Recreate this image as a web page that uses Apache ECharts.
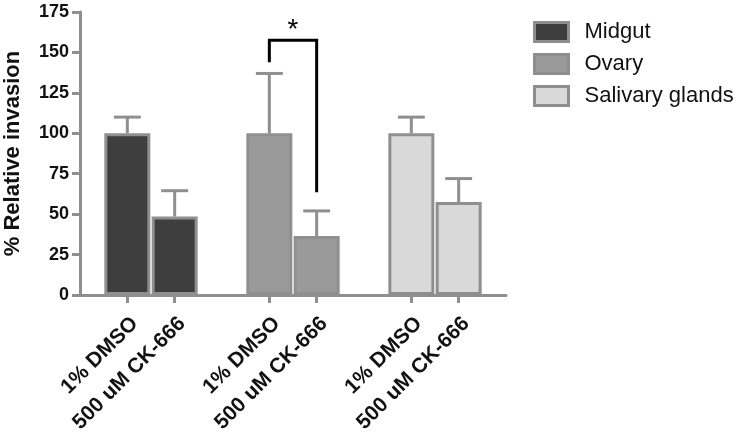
<!DOCTYPE html>
<html>
<head>
<meta charset="utf-8">
<script src="https://cdn.jsdelivr.net/npm/echarts@6/dist/echarts.min.js"></script>
<style>html,body{margin:0;padding:0;background:#fff;}#c{width:742px;height:434px;}</style>
</head>
<body>
<div id="c"></div>
<script>
// ---- data ----
var categories = ["", "1% DMSO", "500 uM CK-666", "", "1% DMSO", "500 uM CK-666", "", "1% DMSO", "500 uM CK-666", ""];
var seriesNames = ["Midgut", "Ovary", "Salivary glands"];
var groupPositions = [[1, 2], [4, 5], [7, 8]];
var midgutMean = [100, 48.5];
var midgutSem = [10, 16];
var ovaryMean = [100, 36.5];
var ovarySem = [37, 15.5];
var salivaryMean = [100, 57.5];
var salivarySem = [10, 14.5];
var yTicks = [0, 25, 50, 75, 100, 125, 150, 175];
var bracketPoints = [[4, 144], [4, 157.5], [5, 157.5], [5, 63.5]];
var starBetween = [4, 5];
var starValue = 164;
var starText = "*";

var means = [midgutMean, ovaryMean, salivaryMean];
var sems = [midgutSem, ovarySem, salivarySem];
var fills = ['#3e3e3e', '#9a9a9a', '#d9d9d9'];
var gray = '#8f8f8f';
var FONT = 'Liberation Sans, Arial, sans-serif';

var series = [];
seriesNames.forEach(function (name, g) {
  var d = categories.map(function () { return '-'; });
  groupPositions[g].forEach(function (pos, k) { d[pos] = means[g][k]; });
  series.push({
    name: name, type: 'bar', data: d, barWidth: 46, barGap: '-100%',
    itemStyle: { color: fills[g], borderColor: gray, borderWidth: 3 },
    z: 3
  });
});

var errData = [];
seriesNames.forEach(function (name, g) {
  groupPositions[g].forEach(function (pos, k) {
    errData.push([pos, means[g][k], sems[g][k]]);
  });
});
series.push({
  type: 'custom', name: 'err', data: errData, z: 4,
  renderItem: function (params, api) {
    var x = api.value(0), v = api.value(1), e = api.value(2);
    var p0 = api.coord([x, v]);
    var p1 = api.coord([x, v + e]);
    return {
      type: 'group',
      children: [
        { type: 'line', shape: { x1: p0[0], y1: p0[1], x2: p1[0], y2: p1[1] }, style: { stroke: gray, lineWidth: 3 } },
        { type: 'line', shape: { x1: p1[0] - 13.5, y1: p1[1], x2: p1[0] + 13.5, y2: p1[1] }, style: { stroke: gray, lineWidth: 3 } }
      ]
    };
  }
});
series.push({
  type: 'custom', name: 'bracket', data: [0], z: 5,
  renderItem: function (params, api) {
    var pts = bracketPoints.map(function (p) { return api.coord(p); });
    var a = api.coord([starBetween[0], starValue]);
    var b = api.coord([starBetween[1], starValue]);
    return {
      type: 'group',
      children: [
        { type: 'polyline', shape: { points: pts }, style: { stroke: '#000', lineWidth: 3, fill: null } },
        { type: 'text', x: (a[0] + b[0]) / 2, y: a[1], style: { text: starText, font: '28px ' + FONT, fill: '#000', align: 'center', verticalAlign: 'middle' } }
      ]
    };
  }
});

var chart = echarts.init(document.getElementById('c'), null, { renderer: 'canvas' });
chart.setOption({
  animation: false,
  backgroundColor: '#fff',
  grid: { left: 80, right: 236, top: 12, bottom: 139, containLabel: false, outerBoundsMode: 'none' },
  legend: {
    data: seriesNames, orient: 'vertical', left: 528, top: 16, icon: 'rect',
    itemWidth: 34, itemHeight: 19, itemGap: 10,
    itemStyle: { borderColor: gray, borderWidth: 3 },
    textStyle: { fontFamily: FONT, fontSize: 22, color: '#111', lineHeight: 22, padding: [0, 0, 0, 11] },
    selectedMode: false
  },
  xAxis: {
    type: 'category', data: categories, boundaryGap: false,
    axisLine: { lineStyle: { color: gray, width: 3 } },
    axisTick: { show: true, length: 8, lineStyle: { color: gray, width: 3 },
      interval: function (i, v) { return v !== ''; } },
    axisLabel: { interval: 0, rotate: 45, fontFamily: FONT, fontSize: 21, fontWeight: 'bold', color: '#111', margin: 18, verticalAlign: 'top' },
    splitLine: { show: false }
  },
  yAxis: {
    type: 'value', min: yTicks[0], max: yTicks[yTicks.length - 1], interval: 25,
    name: '% Relative invasion', nameLocation: 'middle', nameGap: 56, nameMoveOverlap: false,
    nameTextStyle: { fontFamily: FONT, fontSize: 22, fontWeight: 'bold', color: '#111' },
    axisLine: { show: true, lineStyle: { color: gray, width: 3 } },
    axisTick: { show: true, length: 8, lineStyle: { color: gray, width: 3 } },
    axisLabel: { fontFamily: FONT, fontSize: 18, fontWeight: 'bold', color: '#111', margin: 11 },
    splitLine: { show: false }
  },
  series: series
});
</script>
</body>
</html>
